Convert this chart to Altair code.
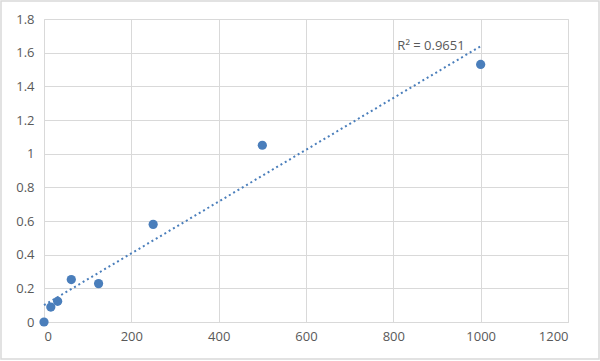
import altair as alt
import pandas as pd

conc = [0, 15.6, 31.25, 62.5, 125, 250, 500, 1000]
od = [0.0, 0.089, 0.123, 0.252, 0.228, 0.58, 1.05, 1.53]
r2_label = ["R² = 0.9651"]

df = pd.DataFrame({"x": conc, "y": od})

FONT = "Open Sans"
GRID = "#d9d9d9"
BLUE = "#4a7ebb"

xs = alt.Scale(domain=[0, 1200], nice=False)
ys = alt.Scale(domain=[0, 1.8], nice=False)

xaxis = alt.Axis(values=[0, 200, 400, 600, 800, 1000, 1200], format="d", grid=True, gridColor=GRID,
                 domainColor=GRID, ticks=False, labelPadding=8, labelFont=FONT, labelOverlap=False,
                 labelFontSize=13, labelColor="#595959", title=None)
yaxis = alt.Axis(values=[0, 0.2, 0.4, 0.6, 0.8, 1.0, 1.2, 1.4, 1.6, 1.8], format="~g",
                 grid=True, gridColor=GRID, domain=False, ticks=False, labelPadding=10,
                 labelOverlap=False, labelFont=FONT, labelFontSize=13, labelColor="#595959",
                 title=None)

border = alt.Chart(pd.DataFrame({"a": [0]})).mark_rect(
    fill=None, stroke=GRID, strokeWidth=1.5, clip=False
).encode(x=alt.value(-43), x2=alt.value(555), y=alt.value(-18), y2=alt.value(340))

trend = alt.Chart(df).transform_regression("x", "y", extent=[0, 1000]).mark_line(
    color=BLUE, strokeWidth=2, strokeDash=[2, 3]
).encode(x=alt.X("x:Q", scale=xs, axis=xaxis), y=alt.Y("y:Q", scale=ys, axis=yaxis))

points = alt.Chart(df).mark_point(filled=True, size=85, color=BLUE, opacity=1).encode(
    x=alt.X("x:Q", scale=xs, axis=xaxis),
    y=alt.Y("y:Q", scale=ys, axis=yaxis),
)

label = alt.Chart(pd.DataFrame({"t": r2_label, "x": [1000], "y": [1.65]})).mark_text(
    align="right", baseline="bottom", dx=-16, dy=9, font=FONT, fontSize=13, color="#595959"
).encode(x=alt.X("x:Q", scale=xs, axis=xaxis), y=alt.Y("y:Q", scale=ys, axis=yaxis), text="t:N")

chart = alt.layer(border, trend, points, label).properties(
    width=524, height=303,
    autosize=alt.AutoSizeParams(type="none"),
    padding={"left": 44, "top": 19, "right": 32, "bottom": 39},
).configure_view(stroke=None).configure(background="white").configure_axis(labelOverlap=False)

chart.save("out.html", embed_options={"renderer": "svg", "actions": False})
